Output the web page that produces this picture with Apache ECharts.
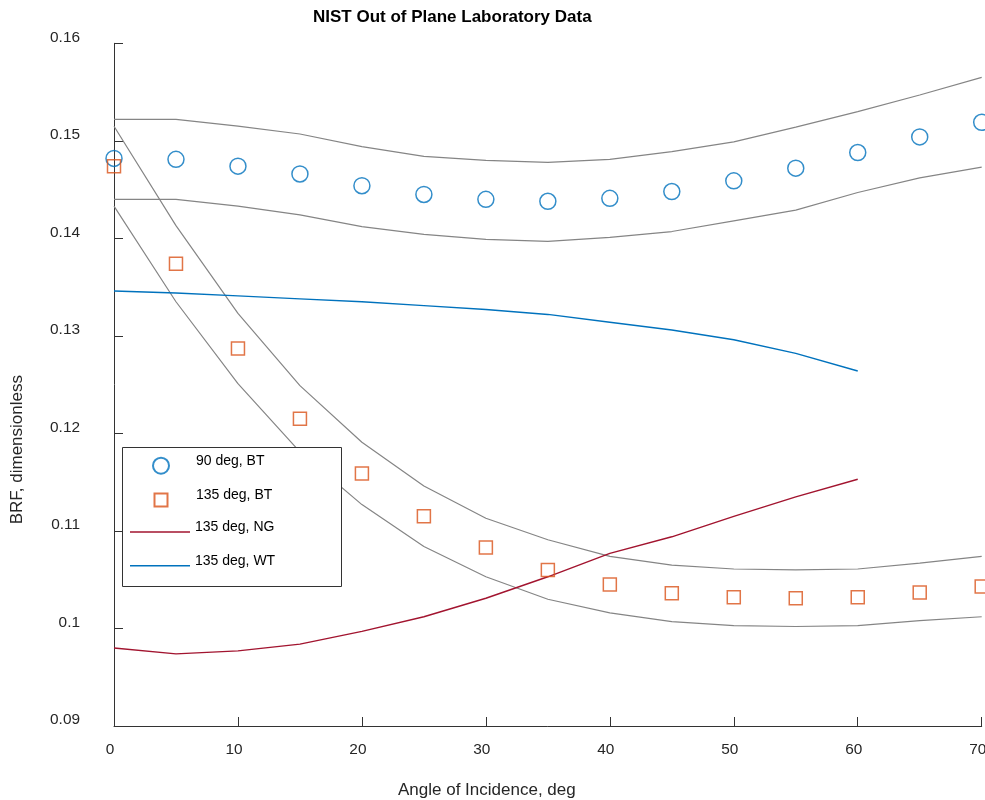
<!DOCTYPE html>
<html>
<head>
<meta charset="utf-8">
<title>NIST Out of Plane Laboratory Data</title>
<script src="https://cdn.jsdelivr.net/npm/echarts@6/dist/echarts.min.js"></script>
<style>
  html, body { margin: 0; padding: 0; background: #ffffff; }
  #chart { width: 985px; height: 800px; }
</style>
</head>
<body>
<div id="chart"></div>
<script>
// Angle of incidence (deg)
const angles = [0, 5, 10, 15, 20, 25, 30, 35, 40, 45, 50, 55, 60, 65, 70];
const modelAngles = [0, 5, 10, 15, 20, 25, 30, 35, 40, 45, 50, 55, 60];

// 90 deg, BT measurements with uncertainty band
const bt90 = [0.1482, 0.1481, 0.1474, 0.1466, 0.1454, 0.1445, 0.1440, 0.1438, 0.1441, 0.1448, 0.1459, 0.1472, 0.1488, 0.1504, 0.1519];
const bt90Upper = [0.1522, 0.1522, 0.1515, 0.1507, 0.1494, 0.1484, 0.1480, 0.1478, 0.1481, 0.1489, 0.1499, 0.1514, 0.1530, 0.1547, 0.1565];
const bt90Lower = [0.1440, 0.1440, 0.1433, 0.1424, 0.1412, 0.1404, 0.1399, 0.1397, 0.1401, 0.1407, 0.1418, 0.1429, 0.1447, 0.1462, 0.1473];

// 135 deg, BT measurements with uncertainty band
const bt135 = [0.1474, 0.1374, 0.1287, 0.1215, 0.1159, 0.1115, 0.1083, 0.1060, 0.1045, 0.1036, 0.1032, 0.1031, 0.1032, 0.1037, 0.1043];
const bt135Upper = [0.1515, 0.1413, 0.1323, 0.1249, 0.1191, 0.1146, 0.1113, 0.1091, 0.1074, 0.1065, 0.1061, 0.1060, 0.1061, 0.1067, 0.1074];
const bt135Lower = [0.1433, 0.1335, 0.1251, 0.1181, 0.1127, 0.1084, 0.1053, 0.1030, 0.1016, 0.1007, 0.1003, 0.1002, 0.1003, 0.1008, 0.1012];

// 135 deg model curves
const ng135 = [0.0980, 0.0974, 0.0977, 0.0984, 0.0997, 0.1012, 0.1031, 0.1053, 0.1077, 0.1094, 0.1115, 0.1135, 0.1153];
const wt135 = [0.1346, 0.1344, 0.1341, 0.1338, 0.1335, 0.1331, 0.1327, 0.1322, 0.1314, 0.1306, 0.1296, 0.1282, 0.1264];

const legendNames = ['90 deg, BT', '135 deg, BT', '135 deg, NG', '135 deg, WT'];

const FONT = '"Liberation Sans", Arial, Helvetica, sans-serif';
const AXIS_COLOR = '#333333';
const BAND_COLOR = '#858585';

// Legend glyphs: a 13px square inside a 16px frame, and a thin horizontal stroke
const SQUARE_ICON = 'path://M-1.5,-1.5M0,0h13v13h-13zM14.5,14.5';
const LINE_ICON = 'path://M0,0h60v1.4h-60z';
const legendIcons = ['circle', SQUARE_ICON, LINE_ICON, LINE_ICON];

// Legend box, the vertical centre of each entry, and its left offset
// (marker glyphs are narrower than the 60px slot, so they start further in)
const LEGEND_BOX = { x: 122, y: 447, width: 219, height: 139 };
const legendRowCenters = [465.7, 500, 532, 565.7];
const legendRowLefts = [152, 152, 130, 130];

function pairs(xs, ys) {
  return xs.map((x, i) => [x, ys[i]]);
}

function bandLine(ys) {
  return {
    type: 'line',
    data: pairs(angles, ys),
    symbol: 'none',
    silent: true,
    z: 2,
    lineStyle: { color: BAND_COLOR, width: 1.2 },
    emphasis: { disabled: true }
  };
}

// One legend component per entry so that each row sits at its own height
const legends = legendNames.map((name, i) => ({
  data: [{ name: name, icon: legendIcons[i] }],
  orient: 'vertical',
  left: legendRowLefts[i],
  top: legendRowCenters[i] - 12,
  itemWidth: 60,
  itemHeight: 16,
  padding: 0,
  z: 20,
  selectedMode: false,
  formatter: n => '{t|' + n + '}',
  textStyle: {
    fontFamily: FONT, fontSize: 14, color: '#000000',
    rich: { t: { fontFamily: FONT, fontSize: 14, color: '#000000', padding: [0, 0, 10, 0] } }
  }
}));

const chart = echarts.init(document.getElementById('chart'), null, { renderer: 'canvas' });

chart.setOption({
  animation: false,
  backgroundColor: '#ffffff',
  textStyle: { fontFamily: FONT },
  title: {
    text: 'NIST Out of Plane Laboratory Data',
    left: 308,
    top: 4,
    textStyle: { fontFamily: FONT, fontSize: 17, fontWeight: 'bold', color: '#000000' }
  },
  grid: { left: 114, top: 43.3, right: 3.3, bottom: 74, containLabel: false, outerBoundsMode: 'none' },
  xAxis: {
    type: 'value',
    min: 0,
    max: 70,
    interval: 10,
    name: 'Angle of Incidence, deg',
    nameLocation: 'middle',
    nameGap: 56,
    nameTextStyle: { fontFamily: FONT, fontSize: 17, color: '#262626', padding: [0, 122, 0, 0], verticalAlign: 'top' },
    axisLine: { show: true, onZero: false, lineStyle: { color: AXIS_COLOR, width: 1 } },
    axisTick: { show: true, inside: true, length: 9, lineStyle: { color: AXIS_COLOR, width: 1 } },
    axisLabel: { fontFamily: FONT, fontSize: 15.4, color: '#262626', margin: 16, padding: [0, 8, 0, 0] },
    splitLine: { show: false }
  },
  yAxis: {
    type: 'value',
    min: 0.09,
    max: 0.16,
    interval: 0.01,
    name: 'BRF, dimensionless',
    nameLocation: 'middle',
    nameGap: 88,
    nameTextStyle: { fontFamily: FONT, fontSize: 17, color: '#262626', padding: [0, 130, 0, 0] },
    axisLine: { show: true, onZero: false, lineStyle: { color: AXIS_COLOR, width: 1 } },
    axisTick: { show: true, inside: true, length: 9, lineStyle: { color: AXIS_COLOR, width: 1 } },
    axisLabel: { fontFamily: FONT, fontSize: 15.4, color: '#262626', margin: 34, verticalAlign: 'bottom', lineHeight: 12 },
    splitLine: { show: false }
  },
  graphic: [{
    type: 'rect',
    z: 15,
    silent: true,
    shape: { x: LEGEND_BOX.x + 0.5, y: LEGEND_BOX.y + 0.5, width: LEGEND_BOX.width, height: LEGEND_BOX.height },
    style: { fill: '#ffffff', stroke: AXIS_COLOR, lineWidth: 1 }
  }],
  legend: legends,
  series: [
    bandLine(bt90Upper),
    bandLine(bt90Lower),
    bandLine(bt135Upper),
    bandLine(bt135Lower),
    {
      name: '135 deg, NG',
      type: 'line',
      data: pairs(modelAngles, ng135),
      symbol: 'none',
      z: 3,
      lineStyle: { color: '#A2142F', width: 1.4 },
      itemStyle: { color: '#A2142F' }
    },
    {
      name: '135 deg, WT',
      type: 'line',
      data: pairs(modelAngles, wt135),
      symbol: 'none',
      z: 3,
      lineStyle: { color: '#0072BD', width: 1.4 },
      itemStyle: { color: '#0072BD' }
    },
    {
      name: '90 deg, BT',
      type: 'scatter',
      data: pairs(angles, bt90),
      symbol: 'circle',
      symbolSize: 16,
      clip: false,
      z: 4,
      itemStyle: { color: 'rgba(0,0,0,0)', borderColor: '#0072BD', borderWidth: 1.5 }
    },
    {
      name: '135 deg, BT',
      type: 'scatter',
      data: pairs(angles, bt135),
      symbol: 'rect',
      symbolSize: 13,
      clip: false,
      z: 4,
      itemStyle: { color: 'rgba(0,0,0,0)', borderColor: '#D95319', borderWidth: 1.5 }
    }
  ]
});
</script>
</body>
</html>
